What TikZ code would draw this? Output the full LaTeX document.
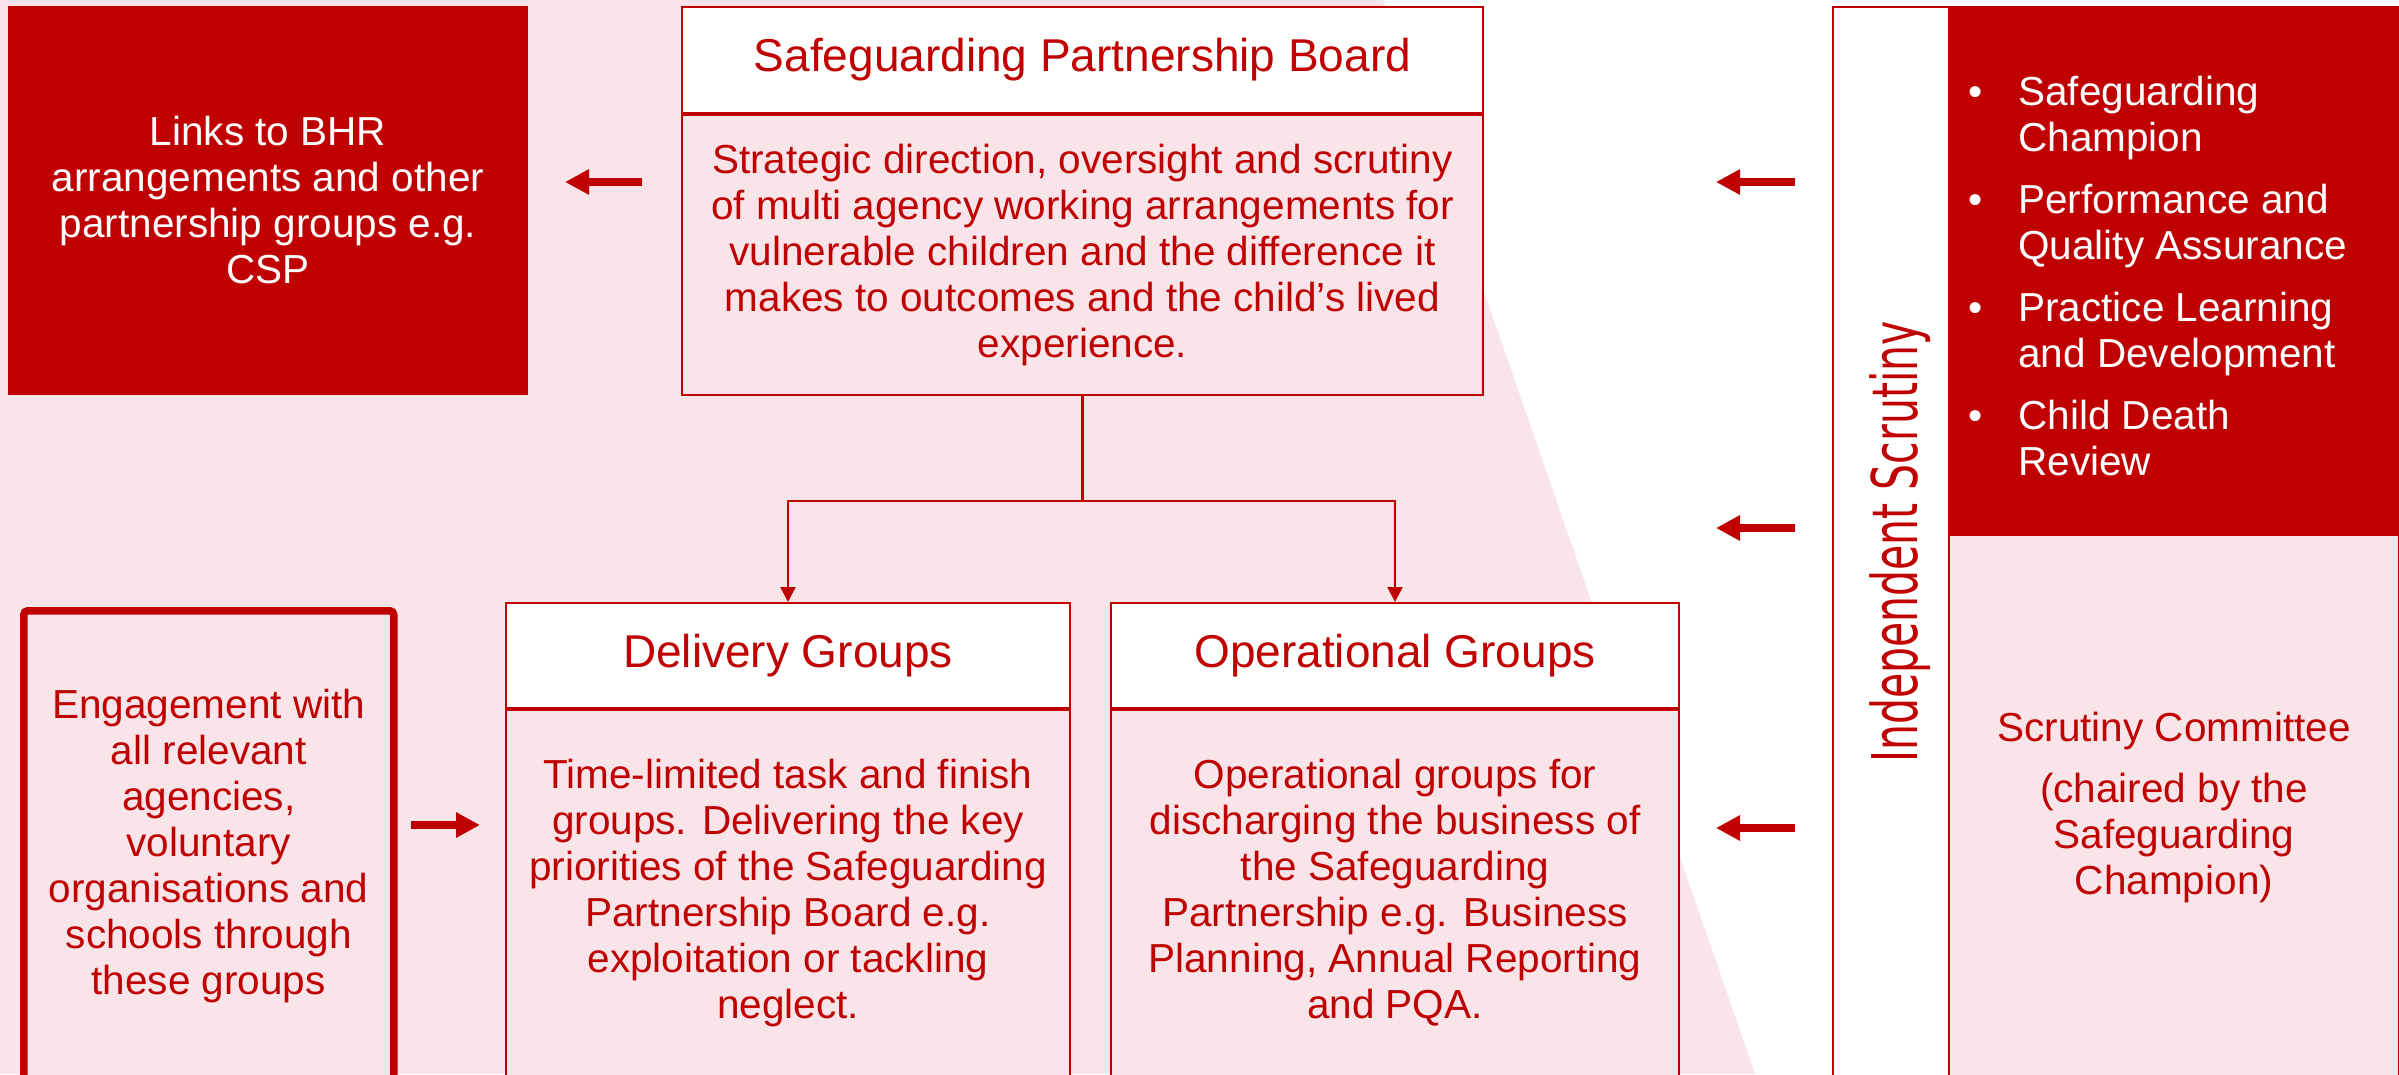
\documentclass[tikz,border=0pt]{standalone}
\usepackage{fontspec}
\setmainfont{Liberation Sans}
\newfontfamily\sidefont[FakeStretch=0.65]{DejaVu Sans}
\usetikzlibrary{arrows.meta}

\definecolor{sgred}{RGB}{192,0,0}
\definecolor{sgpink}{RGB}{249,229,233}

\tikzset{
  box/.style={draw=sgred, line width=2pt, inner sep=0pt, align=center,
    text=sgred, font=\fontsize{40.5}{46}\selectfont},
  head/.style={box, fill=white, font=\fontsize{46}{52}\selectfont},
  body/.style={box, fill=sgpink},
  redbox/.style={box, fill=sgred, text=white},
  link/.style={sgred, line width=2.5pt, -{Triangle[length=15pt, width=15pt]}},
  bigarrow/.style={sgred, line width=8.5pt, -{Triangle[length=24pt, width=24pt]}}
}

\begin{document}
\begin{tikzpicture}[x=1pt, y=-1pt]
  \useasboundingbox (0,0) rectangle (2399,1074);
  \fill[white] (0,0) rectangle (2399,1074);
  \fill[sgpink] (0,0) -- (1383,0) -- (1755,1074) -- (0,1074) -- cycle;

  \node[redbox, anchor=north west, minimum width=518pt, minimum height=387pt]
    (links) at (8,6) {Links to BHR\\arrangements and other\\partnership groups e.g.\\CSP};

  \node[head, anchor=north west, minimum width=801pt, minimum height=106pt]
    (boardhead) at (681,6) {Safeguarding Partnership Board};
  \node[body, anchor=north, minimum width=801pt, minimum height=280pt]
    (boardbody) at (boardhead.south) {Strategic direction, oversight and scrutiny\\of multi agency working arrangements for\\vulnerable children and the difference it\\makes to outcomes and the child’s lived\\experience.};

  \node[head, anchor=north west, minimum width=564pt, minimum height=105pt]
    (delhead) at (505,602) {Delivery Groups};
  \node[body, anchor=north, minimum width=564pt, minimum height=366pt]
    (delbody) at (delhead.south) {Time-limited task and finish\\groups. Delivering the key\\priorities of the Safeguarding\\Partnership Board e.g.\\exploitation or tackling\\neglect.};

  \node[head, anchor=north west, minimum width=568pt, minimum height=105pt]
    (opshead) at (1110,602) {Operational Groups};
  \node[body, anchor=north, minimum width=568pt, minimum height=366pt]
    (opsbody) at (opshead.south) {Operational groups for\\discharging the business of\\the Safeguarding\\Partnership e.g. Business\\Planning, Annual Reporting\\and PQA.};

  \node[body, line width=7.5pt, rounded corners=4pt, anchor=north west,
    minimum width=370pt, minimum height=470pt]
    (engage) at (20,607) {Engagement with\\all relevant\\agencies,\\voluntary\\organisations and\\schools through\\these groups};

  % tree from the board
  \coordinate (split) at ([yshift=-105pt]boardbody.south);
  \draw[sgred, line width=2.5pt] (boardbody.south) -- (split);
  \draw[link] (split) -| (delhead.north);
  \draw[link] (split) -| (opshead.north);

  % scrutiny side
  \node[box, fill=white, anchor=north west, minimum width=116pt, minimum height=1070pt]
    (scrut) at (1832,6) {};
  \node[rotate=90, text=sgred, font=\sidefont\fontsize{63}{70}\selectfont]
    (scrutlabel) at ([xshift=9pt]scrut.center) {Independent Scrutiny};

  \node[redbox, anchor=north west, minimum width=450pt, minimum height=528pt]
    (champ) at (1948,6) {};
  \node[anchor=north west, inner sep=0pt, text=white, font=\fontsize{40.5}{46}\selectfont]
    (champlist) at (1968,73) {%
    \begin{tabular}{@{}l@{\hspace{36pt}}l@{}}
      \textbullet & Safeguarding\\
                  & Champion\\[16pt]
      \textbullet & Performance and\\
                  & Quality Assurance\\[16pt]
      \textbullet & Practice Learning\\
                  & and Development\\[16pt]
      \textbullet & Child Death\\
                  & Review
    \end{tabular}};
  \node[body, anchor=north west, minimum width=450pt, minimum height=545pt]
    (committee) at (1948,534) {Scrutiny Committee\\[15pt](chaired by the\\Safeguarding\\Champion)};

  % block arrows
  \coordinate (lt) at (642,182);
  \coordinate (lh) at (565,182);
  \draw[bigarrow] (lt) -- (lh);
  \coordinate (et) at (411,825);
  \coordinate (eh) at (480,825);
  \draw[bigarrow] (et) -- (eh);
  \foreach \y [count=\i] in {182,528,828}{
    \coordinate (st\i) at (1795,\y);
    \coordinate (sh\i) at (1716,\y);
    \draw[bigarrow] (st\i) -- (sh\i);
  }
\end{tikzpicture}
\end{document}
